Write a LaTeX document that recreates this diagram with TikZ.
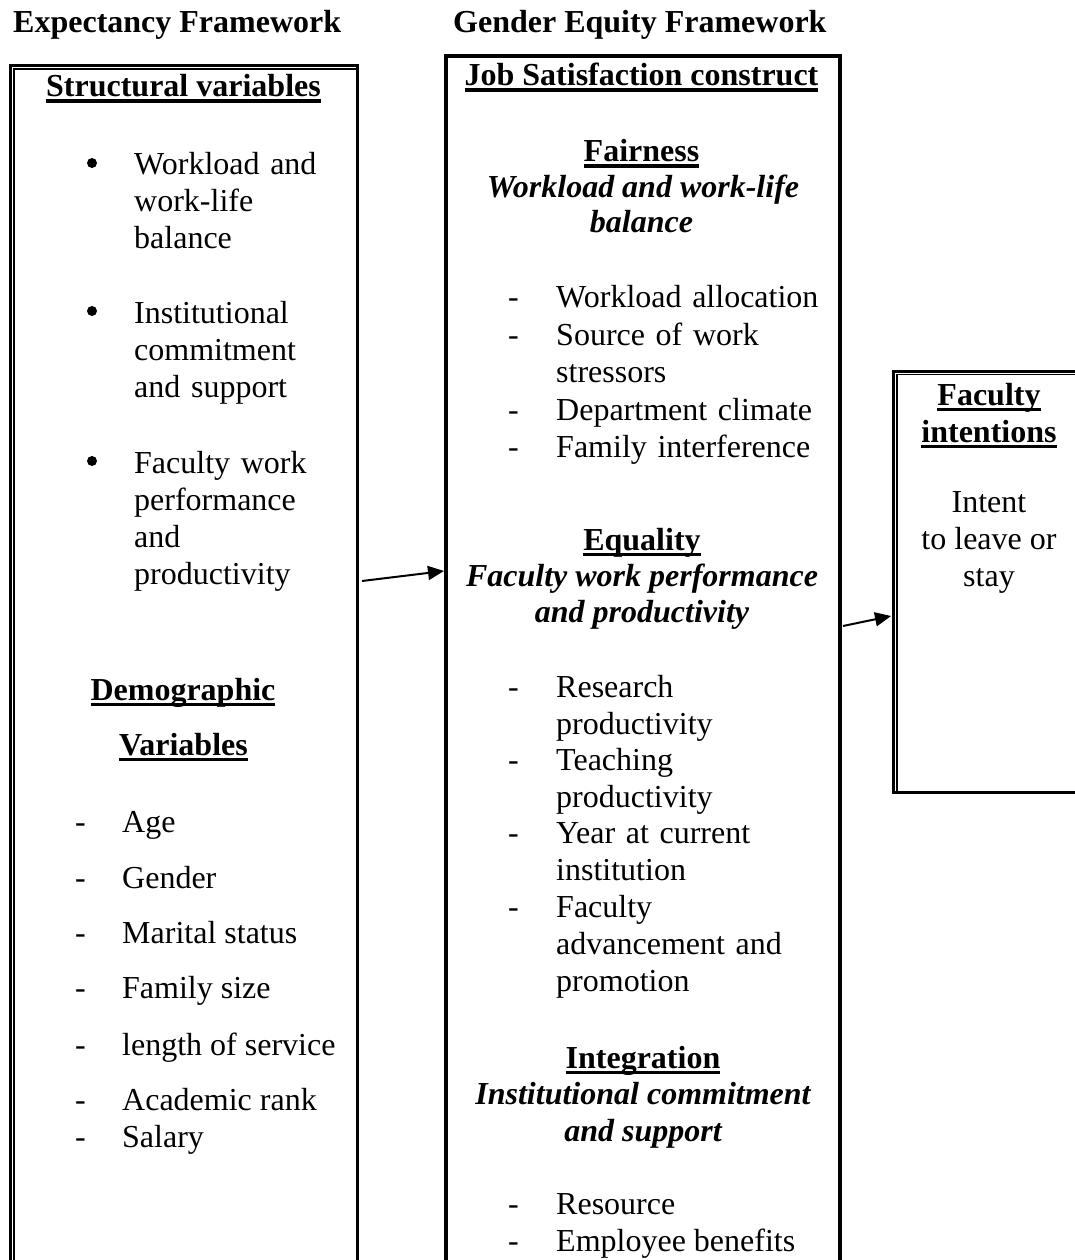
\documentclass[tikz,border=0pt]{standalone}
\usepackage{fontspec}
\setmainfont{Liberation Serif}
\usetikzlibrary{arrows.meta}

\newcommand{\hdul}[1]{\setbox0\hbox{#1}\rlap{\rule[-6pt]{\wd0}{3.5pt}}\box0}

\tikzset{
  txt/.style={font=\fontsize{32}{37}\selectfont, inner sep=0pt, anchor=base west},
  list/.style={txt, text width=300pt, align=left},
  hd/.style={font=\fontsize{32}{37}\selectfont\bfseries, inner sep=0pt, anchor=base},
  sub/.style={font=\fontsize{32}{37}\selectfont\bfseries\itshape, inner sep=0pt, anchor=base},
}

\begin{document}
\begin{tikzpicture}[x=1pt, y=-1pt, >={Triangle[length=16pt,width=14pt]}]
    \useasboundingbox (0,0) rectangle (1075,1260);

    % titles
    \node[txt, font=\fontsize{32}{37}\selectfont\bfseries] (expt) at (13,33) {Expectancy Framework};
    \node[txt, font=\fontsize{32}{37}\selectfont\bfseries] (gent) at (453,33) {Gender Equity Framework};

    % boxes
    \draw[line width=3pt] (10.5,1265) -- (10.5,65.5) -- (357,65.5) -- (357,1265);
    \draw[line width=1.3pt] (14,1265) -- (14,69) -- (355.5,69);
    \draw[line width=4pt] (445.5,1265) -- (445.5,56) -- (839.5,56) -- (839.5,1265);
    \draw[line width=3pt] (1080,371) -- (893.5,371) -- (893.5,792) -- (1080,792);
    \draw[line width=1.3pt] (1080,374.5) -- (897,374.5) -- (897,790.5);

    % left column
    \node[hd] (struct) at (183.5,97) {\hdul{Structural variables}};
    \foreach \y/\lbl [count=\i] in {175/{Workload and\\work-life\\balance},
                                   323/{Institutional\\commitment\\and support},
                                   473/{Faculty work\\performance\\and\\productivity}} {
        \node[circle, fill, inner sep=0pt, minimum size=10pt] (dot\i) at (92,\y-12) {};
        \node[list] (sv\i) at (134,\y) {\lbl};
    }
    \node[hd] (demo) at (183,700) {\hdul{Demographic}};
    \node[hd] (demv) at (183.5,755) {\hdul{Variables}};
    \foreach \y/\lbl [count=\i] in {832/Age, 888/Gender, 943/Marital status, 998/Family size,
                                   1055/length of service, 1110/Academic rank, 1147/Salary} {
        \node[txt] (dd\i) at (75,\y) {-};
        \node[txt] (dem\i) at (122,\y) {\lbl};
    }

    % middle column
    \node[hd] (jobs) at (641.5,86) {\hdul{Job Satisfaction construct}};

    \node[hd] (fair) at (641.5,162) {\hdul{Fairness}};
    \node[sub] (fairA) at (643,197) {Workload and work-life};
    \node[sub] (fairB) at (641.5,233) {balance};
    \foreach \y/\lbl [count=\i] in {307/{Workload allocation}, 345/{Source of work\\stressors},
                                   420/{Department climate}, 457/{Family interference}} {
        \node[txt] (fd\i) at (508,\y) {-};
        \node[list] (fi\i) at (556,\y) {\lbl};
    }

    \node[hd] (equa) at (642,550) {\hdul{Equality}};
    \node[sub] (equaA) at (642,586) {Faculty work performance};
    \node[sub] (equaB) at (642,622) {and productivity};
    \foreach \y/\lbl [count=\i] in {697/{Research\\productivity}, 770/{Teaching\\productivity},
                                   843/{Year at current\\institution}, 917/{Faculty\\advancement and\\promotion}} {
        \node[txt] (ed\i) at (508,\y) {-};
        \node[list] (ei\i) at (556,\y) {\lbl};
    }

    \node[hd] (inte) at (643,1068) {\hdul{Integration}};
    \node[sub] (inteA) at (643,1104) {Institutional commitment};
    \node[sub] (inteB) at (643,1141) {and support};
    \foreach \y/\lbl [count=\i] in {1214/Resource, 1251/Employee benefits} {
        \node[txt] (id\i) at (508,\y) {-};
        \node[txt] (ii\i) at (556,\y) {\lbl};
    }

    % right column
    \node[hd] (facA) at (989,405) {\hdul{Faculty}};
    \node[hd] (facB) at (989,442) {\hdul{intentions}};
    \node[txt, anchor=base] (intA) at (989,512) {Intent};
    \node[txt, anchor=base] (intB) at (989,549) {to leave or};
    \node[txt, anchor=base] (intC) at (989,586) {stay};

    % arrows
    \coordinate (fromL) at (362,581);
    \coordinate (toM) at (444,571);
    \coordinate (fromM) at (843,626);
    \coordinate (toR) at (891,616);
    \draw[->, line width=2pt] (fromL) -- (toM);
    \draw[->, line width=2pt] (fromM) -- (toR);
\end{tikzpicture}
\end{document}
